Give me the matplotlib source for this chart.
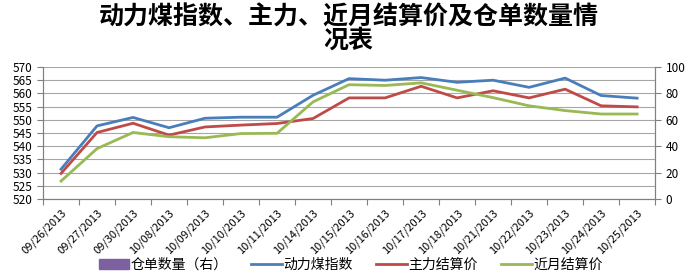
import matplotlib
matplotlib.use("Agg")
import matplotlib.pyplot as plt
import numpy as np
from matplotlib.patches import Patch
from matplotlib.lines import Line2D

plt.rcParams['font.family'] = ['Noto Sans CJK SC', 'DejaVu Sans']

dates = ['09/26/2013', '09/27/2013', '09/30/2013', '10/08/2013', '10/09/2013',
         '10/10/2013', '10/11/2013', '10/14/2013', '10/15/2013', '10/16/2013',
         '10/17/2013', '10/18/2013', '10/21/2013', '10/22/2013', '10/23/2013',
         '10/24/2013', '10/25/2013']
index_price = [531.3, 547.7, 550.9, 547.0, 550.6, 551.0, 551.0, 559.3, 565.6,
               565.0, 566.0, 564.2, 565.0, 562.3, 565.8, 559.2, 558.2]
main_settle = [529.7, 545.2, 548.7, 544.2, 547.3, 548.0, 548.6, 550.5, 558.3,
               558.3, 562.7, 558.3, 561.0, 558.3, 561.6, 555.3, 554.9]
near_settle = [526.8, 539.1, 545.2, 543.6, 543.2, 544.8, 544.9, 556.8, 563.3,
               563.0, 564.0, 561.2, 558.4, 555.3, 553.5, 552.2, 552.2]
warrants = [0] * len(dates)

c_bar = '#7d60a0'
c_blue = '#4a7ebb'
c_red = '#be4b48'
c_green = '#98b954'

fig = plt.figure(figsize=(6.94, 2.78), dpi=100)
ax = fig.add_axes([0.062, 0.284, 0.882, 0.475])
ax2 = ax.twinx()

x = np.arange(len(dates))
ax2.bar(x, warrants, width=0.5, color=c_bar)
ax.plot(x, index_price, color=c_blue, lw=2)
ax.plot(x, main_settle, color=c_red, lw=2)
ax.plot(x, near_settle, color=c_green, lw=2)
ax.set_zorder(ax2.get_zorder() + 1)
ax.patch.set_visible(False)

ax.set_xlim(-0.5, len(dates) - 0.5)
ax.set_ylim(520, 570)
ax.set_yticks(np.arange(520, 571, 5))
ax2.set_ylim(0, 100)
ax2.set_yticks(np.arange(0, 101, 20))
ax.grid(axis='y', color='#a6a6a6', lw=0.8)
ax.set_axisbelow(True)

# ticks sit between categories, labels under each category
ax.set_xticks(np.arange(-0.5, len(dates), 1), minor=False)
ax.set_xticklabels([])
ax.set_xticks(x, minor=True)
ax.set_xticklabels(dates, minor=True, rotation=45, ha='right',
                   rotation_mode='anchor', fontsize=8)
ax.tick_params(axis='x', which='minor', length=0, pad=6)
ax.tick_params(axis='x', which='major', length=4, color='#808080')
ax.tick_params(axis='y', labelsize=8.5, length=4, color='#808080')
ax2.tick_params(axis='y', labelsize=8.5, length=4, color='#808080')

for a in (ax, ax2):
    a.spines['top'].set_visible(False)
    for s in ('left', 'right', 'bottom'):
        a.spines[s].set_color('#808080')

fig.text(0.502, 0.895, '动力煤指数、主力、近月结算价及仓单数量情\n况表',
         ha='center', va='center', fontsize=18, fontweight='bold',
         linespacing=0.95)

handles = [Patch(color=c_bar),
           Line2D([], [], color=c_blue, lw=2),
           Line2D([], [], color=c_red, lw=2),
           Line2D([], [], color=c_green, lw=2)]
labels = ['仓单数量（右）', '动力煤指数', '主力结算价', '近月结算价']
fig.legend(handles, labels, loc='center', bbox_to_anchor=(0.505, 0.048), ncol=4,
           frameon=False, fontsize=10, handlelength=2.2, handletextpad=0.1,
           columnspacing=1.7, borderpad=0)

fig.savefig('out.png', dpi=100)
